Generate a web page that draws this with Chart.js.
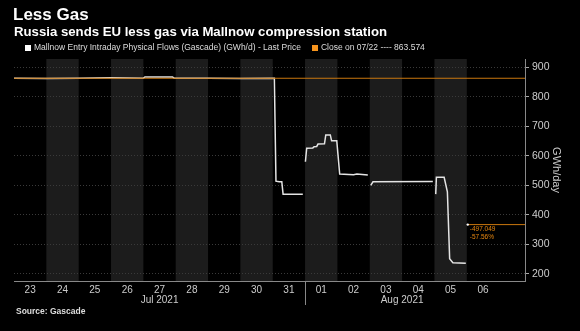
<!DOCTYPE html>
<html lang="en">
<head>
    <meta charset="UTF-8">
    <title>Less Gas</title>
    <script src="https://cdn.jsdelivr.net/npm/chart.js"></script>
    <style>
        html, body {
            margin: 0;
            padding: 0;
            background: #000;
            width: 580px;
            height: 331px;
            overflow: hidden;
            font-family: "Liberation Sans", Arial, sans-serif;
        }
        #wrap {
            position: absolute;
            left: 0;
            top: 0;
            width: 580px;
            height: 331px;
        }
        .txt { position: absolute; white-space: nowrap; }
        #title { left: 13px; top: 5px; color: #fff; font-size: 17px; font-weight: bold; }
        #subtitle { left: 14px; top: 24px; color: #fff; font-size: 13.2px; font-weight: bold; }
        #legend { left: 20px; top: 42px; color: #ddd; font-size: 8.5px; }
        #legend .sq { display: inline-block; width: 6px; height: 6px; margin-right: 3px; vertical-align: -0.5px; }
        #source { left: 16px; top: 306px; color: #ddd; font-size: 8.5px; font-weight: bold; }
    </style>
</head>
<body>
    <div id="wrap"><canvas id="gasChart" width="580" height="331"></canvas></div>
    <div class="txt" id="title">Less Gas</div>
    <div class="txt" id="subtitle">Russia sends EU less gas via Mallnow compression station</div>
    <div class="txt" id="legend"><span class="sq" style="background:#fff;margin-left:5px"></span>Mallnow Entry Intraday Physical Flows (Gascade) (GWh/d) - Last Price<span class="sq" style="background:#f7941d;margin-left:11px"></span>Close on 07/22 ---- 863.574</div>
    <div class="txt" id="source">Source: Gascade</div>

    <script>
        // x values are days since Jul 23 00:00
        const dayLabels = ['23', '24', '25', '26', '27', '28', '29', '30', '31', '01', '02', '03', '04', '05', '06'];
        const monthLabels = ['Jul 2021', 'Aug 2021'];
        const monthSpans = [[0, 9], [9, 15]];
        const xMax = 15.8;

        const flowDays = [0, 1, 2, 3, 4.0, 4.05, 4.9, 4.95, 6, 7, 8.05, 8.1, 8.2, 8.28, 8.32, 8.93,
            8.97, 9.01, 9.05, 9.24, 9.28, 9.36, 9.4, 9.6, 9.64, 9.78, 9.82, 9.98, 10.07, 10.5, 10.6, 10.94,
            10.98, 11.03, 11.1, 12.95,
            12.99, 13.04, 13.06, 13.3, 13.4, 13.47, 13.57, 13.97];
        const flowValues = [864, 863, 864, 865, 864, 868, 868, 864, 864, 863, 864, 514, 512, 512, 470, 470,
            null, 580, 626, 627, 631, 632, 640, 641, 671, 671, 651, 651, 538, 536, 538, 535,
            null, 500, 512, 513,
            null, 470, 527, 527, 478, 251, 237, 235];

        const closeValue = 863.574;
        const closeDays = [0, xMax];
        const diffDays = [14.03, xMax];
        const diffValue = 366.525;
        const diffLabels = ['-497.049', '-57.56%'];
        const yTicks = [200, 300, 400, 500, 600, 700, 800, 900];

        const flowData = flowDays.map((d, i) => ({ x: d, y: flowValues[i] }));
        const closeData = closeDays.map(d => ({ x: d, y: closeValue }));
        const diffData = diffDays.map(d => ({ x: d, y: diffValue }));

        // alternate day shading, month labels and the diff annotation
        const decor = {
            id: 'decor',
            beforeDraw(chart) {
                const { ctx, chartArea, scales } = chart;
                ctx.save();
                ctx.fillStyle = '#1c1c1c';
                for (let d = 1; d < 15; d += 2) {
                    const x1 = scales.x.getPixelForValue(d);
                    const x2 = scales.x.getPixelForValue(d + 1);
                    ctx.fillRect(x1, chartArea.top, x2 - x1, chartArea.bottom - chartArea.top);
                }
                ctx.restore();
            },
            afterDraw(chart) {
                const { ctx, chartArea, scales } = chart;
                ctx.save();
                ctx.fillStyle = '#ccc';
                ctx.font = '10px "Liberation Sans", Arial, sans-serif';
                ctx.textAlign = 'center';
                ctx.textBaseline = 'top';
                monthLabels.forEach((m, i) => {
                    const mid = (monthSpans[i][0] + monthSpans[i][1]) / 2;
                    ctx.fillText(m, scales.x.getPixelForValue(mid), chartArea.bottom + 14);
                });
                const sx = Math.round(scales.x.getPixelForValue(9)) + 0.5;
                ctx.strokeStyle = '#888';
                ctx.lineWidth = 1;
                ctx.beginPath();
                ctx.moveTo(sx, chartArea.bottom);
                ctx.lineTo(sx, chartArea.bottom + 24);
                ctx.stroke();

                const px = scales.x.getPixelForValue(diffDays[0]);
                const py = scales.y.getPixelForValue(diffValue);
                ctx.fillStyle = '#e8870f';
                ctx.font = '6.5px "Liberation Sans", Arial, sans-serif';
                ctx.textAlign = 'left';
                ctx.textBaseline = 'middle';
                ctx.fillText(diffLabels[0], px + 2, py + 5);
                ctx.fillText(diffLabels[1], px + 2, py + 13);
                ctx.restore();
            }
        };

        const ctx = document.getElementById('gasChart').getContext('2d');
        const gasChart = new Chart(ctx, {
            type: 'line',
            data: {
                datasets: [{
                    label: 'Close on 07/22',
                    data: closeData,
                    borderColor: '#c9770e',
                    borderWidth: 1,
                    pointRadius: 0
                }, {
                    label: 'Diff',
                    data: diffData,
                    borderColor: '#c9770e',
                    borderWidth: 1,
                    pointRadius: [1.2, 0],
                    pointBackgroundColor: '#fff',
                    pointBorderWidth: 0
                }, {
                    label: 'Mallnow Entry Intraday Physical Flows',
                    data: flowData,
                    borderColor: '#e4e4e4',
                    borderWidth: 1.5,
                    pointRadius: 0,
                    spanGaps: false,
                    tension: 0
                }]
            },
            options: {
                responsive: false,
                animation: false,
                events: [],
                layout: { padding: { left: 14, top: 59, right: 0, bottom: 0 } },
                plugins: {
                    legend: { display: false },
                    tooltip: { enabled: false }
                },
                scales: {
                    x: {
                        type: 'linear',
                        min: 0,
                        max: xMax,
                        afterFit: s => { s.height = 50; },
                        afterBuildTicks: s => { s.ticks = dayLabels.map((_, i) => ({ value: i + 0.5 })); },
                        ticks: {
                            autoSkip: false,
                            maxRotation: 0,
                            padding: 3,
                            color: '#ccc',
                            font: { family: '"Liberation Sans", Arial, sans-serif', size: 10 },
                            callback: v => dayLabels[Math.floor(v)]
                        },
                        grid: { display: false, drawTicks: false },
                        border: { display: true, color: '#888', width: 1 }
                    },
                    y: {
                        position: 'right',
                        min: 175,
                        max: 929,
                        afterFit: s => { s.width = 55; },
                        afterBuildTicks: s => { s.ticks = yTicks.map(v => ({ value: v })); },
                        ticks: {
                            padding: 3,
                            color: '#ccc',
                            font: { family: '"Liberation Sans", Arial, sans-serif', size: 10.5 }
                        },
                        grid: {
                            color: '#3a3a3a',
                            tickColor: '#aaa',
                            tickLength: 4,
                            tickBorderDash: []
                        },
                        border: { display: true, color: '#888', width: 1, dash: [1, 2] },
                        title: {
                            display: true,
                            text: 'GWh/day',
                            color: '#ccc',
                            font: { family: '"Liberation Sans", Arial, sans-serif', size: 11 },
                            padding: { top: 17, bottom: 0 }
                        }
                    }
                }
            },
            plugins: [decor]
        });
    </script>
</body>
</html>
